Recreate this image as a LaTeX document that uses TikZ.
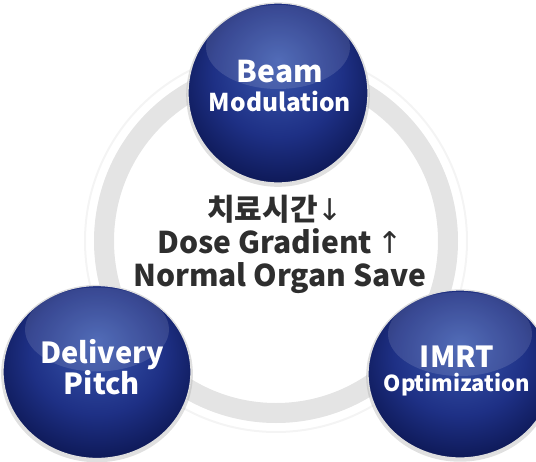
\documentclass[tikz,border=0pt]{standalone}
\usepackage{fontspec}
\setmainfont{Noto Sans CJK KR}
\newfontfamily\arrfont{DejaVu Sans}
\usetikzlibrary{positioning}
\usetikzlibrary{shadows}
\usetikzlibrary{shapes.geometric}

\definecolor{navylight}{HTML}{3A58AE}
\definecolor{navymid}{HTML}{1E3085}
\definecolor{navydark}{HTML}{0B154F}
\definecolor{textgray}{HTML}{2E2E2E}
\definecolor{ringgray}{HTML}{E4E4E4}

\pgfdeclareradialshading{glossy}{\pgfpoint{0bp}{9bp}}{%
    color(0bp)=(navylight); color(18bp)=(navymid); color(31bp)=(navydark); color(50bp)=(navydark)}

\begin{document}
\begin{tikzpicture}[x=1pt, y=-1pt,
    ball/.style = {ellipse, draw=white!75!gray, line width=1.3pt, inner sep=0pt,
                   shading=glossy,
                   drop shadow={shadow xshift=0pt, shadow yshift=-2pt, shadow scale=1.02,
                                fill=gray!70, opacity=.35},
                   path picture={\fill[white, fill opacity=.12]
                       ([yshift=-44pt]path picture bounding box.north) ellipse (72pt and 42pt);}},
    balltext/.style = {text=white, align=center, inner sep=0pt,
                       font=\bfseries\fontsize{26}{26}\selectfont},
    mid/.style = {text=textgray, inner sep=0pt, text height=21pt, text depth=5pt,
                  font=\bfseries\fontsize{30}{33}\selectfont}]
    \useasboundingbox (0,0) rectangle (536,461);

    % ring behind the balls
    \coordinate (R) at (276,241);
    \draw[ringgray, line width=20pt] (R) circle (172);
    \draw[gray!9, line width=2pt] (R) circle (191);

    % the three balls
    \node[ball, minimum width=180pt, minimum height=180pt] (beam) at (278,93) {};
    \node[ball, minimum width=188pt, minimum height=173pt] (pitch) at (97,372) {};
    \node[ball, minimum width=184pt, minimum height=168pt] (imrt) at (460,374) {};

    \node[balltext] (beamtext) at (280,86)
        {{\fontsize{30}{30}\selectfont Beam}\\[3pt]{\fontsize{24.5}{24.5}\selectfont Modulation}};
    \node[balltext] (pitchtext) at (102,367)
        {{\fontsize{29}{29}\selectfont Delivery}\\[-1pt]{\fontsize{29}{29}\selectfont Pitch}};
    \node[balltext] (imrttext) at (457,371)
        {{\fontsize{29}{29}\selectfont IMRT}\\[-2pt]{\fontsize{22}{22}\selectfont Optimization}};

    % centre text
    \node[mid] (time) at (275,212) {치료시간{\arrfont\mdseries ↓}};
    \node[mid] (grad) at (280,245) {Dose Gradient{\arrfont\mdseries\,↑}};
    \node[mid] (save) at (280,278) {Normal Organ Save};
\end{tikzpicture}
\end{document}
